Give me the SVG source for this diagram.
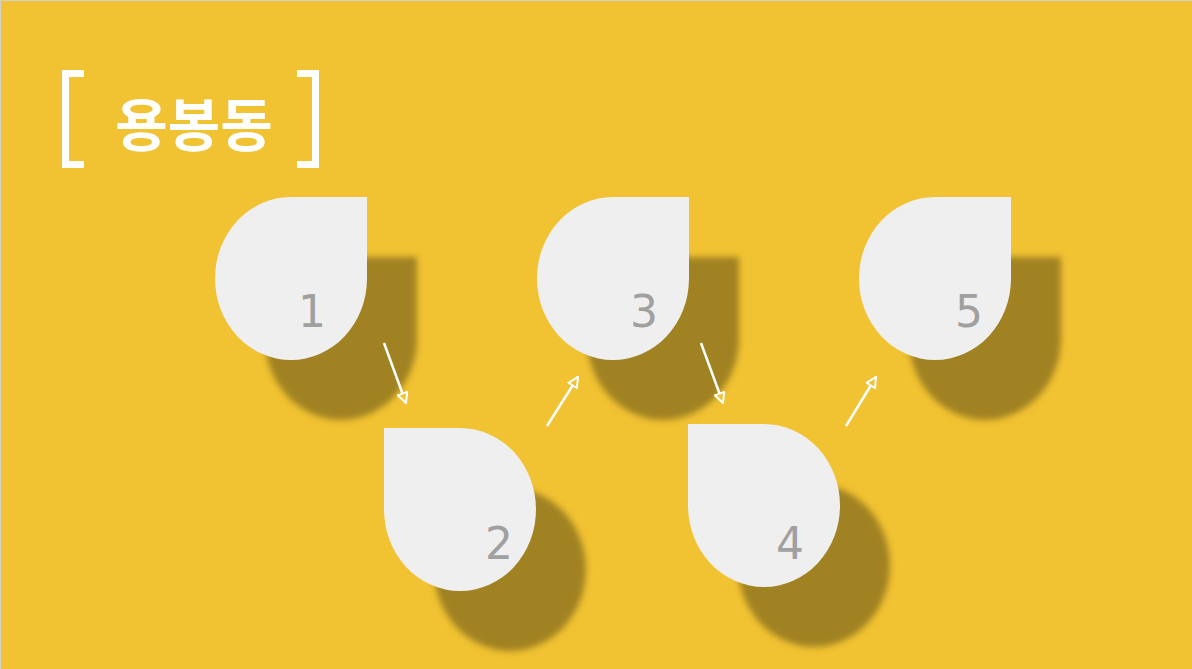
<svg xmlns="http://www.w3.org/2000/svg" xmlns:xlink="http://www.w3.org/1999/xlink" width="1192" height="669" viewBox="0 0 1192 669">
<style>
.bg{fill:#F1C232}
.drop{fill:#EFEFEF}
.shadow{fill:#A08223;filter:url(#blur)}
.num{font-family:"DejaVu Sans","Liberation Sans",sans-serif;font-size:44px;fill:#A0A0A0;text-anchor:middle}
.title{font-family:"Noto Sans CJK KR",sans-serif;font-weight:bold;font-size:57px;fill:#FFFFFF}
.br{fill:none;stroke:#FFFFFF;stroke-width:7}
.arrow{stroke:#FFFFFF;stroke-width:2.5;fill:none;marker-end:url(#head)}
</style>
<defs>
<filter id="blur" x="-20%" y="-20%" width="140%" height="140%"><feGaussianBlur stdDeviation="3"/></filter>
<path id="tr" d="M76 -81.5 L76 0 A76 81.5 0 0 1 0 81.5 A76 81.5 0 0 1 -76 0 A76 81.5 0 0 1 0 -81.5 Z"/>
<path id="tl" d="M-76 -81.5 L0 -81.5 A76 81.5 0 0 1 76 0 A76 81.5 0 0 1 0 81.5 A76 81.5 0 0 1 -76 0 Z"/>
<marker id="head" viewBox="0 0 12 12" refX="11" refY="6" markerWidth="12" markerHeight="12" markerUnits="userSpaceOnUse" orient="auto">
<path d="M1 1 L11 6 L1 11 Z" fill="#F1C232" stroke="#FFFFFF" stroke-width="2"/>
</marker>
</defs>
<rect class="bg" x="0" y="0" width="1192" height="669"/>
<path d="M0.5 669 L0.5 0.5 L1192 0.5" fill="none" stroke="#D0D0D0" stroke-width="1"/>
<g id="title">
<path class="br" d="M84 73.5 L65.5 73.5 L65.5 164.5 L84 164.5"/>
<path class="br" d="M297 73.5 L315.5 73.5 L315.5 164.5 L297 164.5"/>
<text class="title" x="194" y="146" text-anchor="middle">용봉동</text>
</g>
<g id="shadows">
<use class="shadow" xlink:href="#tr" x="341" y="338.5"/>
<use class="shadow" xlink:href="#tl" x="510" y="569.5"/>
<use class="shadow" xlink:href="#tr" x="663" y="338.5"/>
<use class="shadow" xlink:href="#tl" x="814" y="565.5"/>
<use class="shadow" xlink:href="#tr" x="985" y="338.5"/>
</g>
<g id="node1"><use class="drop" xlink:href="#tr" x="291" y="278.5"/><text class="num" x="312" y="327">1</text></g>
<g id="node2"><use class="drop" xlink:href="#tl" x="460" y="509.5"/><text class="num" x="499" y="559">2</text></g>
<g id="node3"><use class="drop" xlink:href="#tr" x="613" y="278.5"/><text class="num" x="644" y="327">3</text></g>
<g id="node4"><use class="drop" xlink:href="#tl" x="764" y="505.5"/><text class="num" x="790" y="559">4</text></g>
<g id="node5"><use class="drop" xlink:href="#tr" x="935" y="278.5"/><text class="num" x="969" y="327">5</text></g>
<g id="connectors">
<line class="arrow" x1="384" y1="343" x2="406" y2="403"/>
<line class="arrow" x1="547" y1="426" x2="578" y2="377"/>
<line class="arrow" x1="701" y1="343" x2="723" y2="403"/>
<line class="arrow" x1="846" y1="426" x2="876" y2="377"/>
</g>
</svg>
